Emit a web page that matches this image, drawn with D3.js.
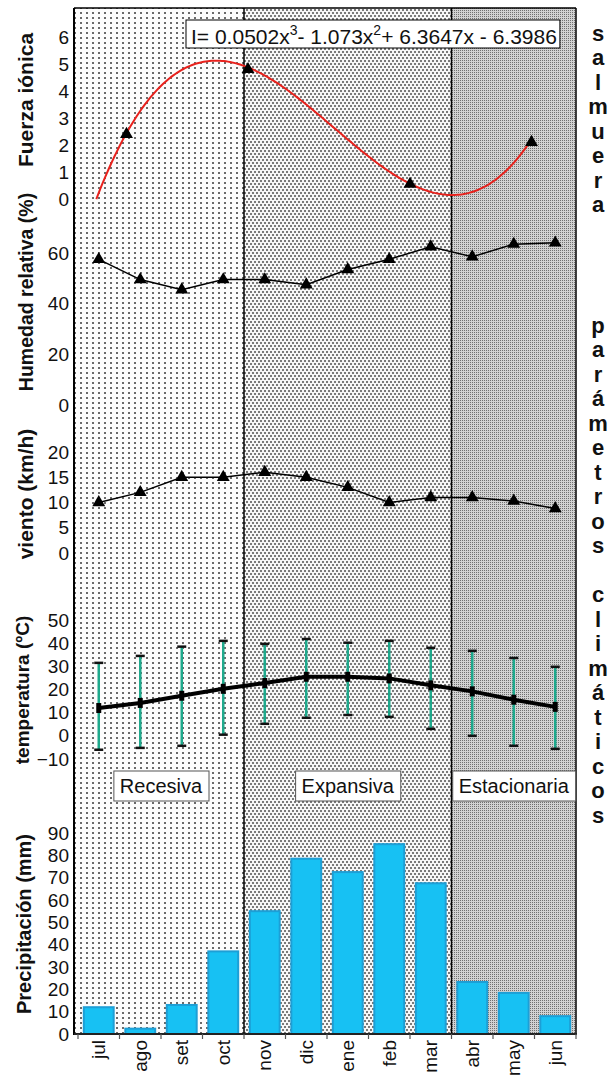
<!DOCTYPE html>
<html>
<head>
<meta charset="utf-8">
<script src="https://cdn.jsdelivr.net/npm/d3@7"></script>
<style>
  body { margin: 0; background: #fff; }
  svg { display: block; font-family: 'Liberation Sans', Arial, sans-serif; }
</style>
</head>
<body>
<script>
const months = ['jul', 'ago', 'set', 'oct', 'nov', 'dic', 'ene', 'feb', 'mar', 'abr', 'may', 'jun'];

// fuerza iónica (own x axis: month number 1..12)
const ionicMonths = [2, 5, 9, 12];
const ionicValues = [2.4, 4.8, 0.55, 2.1];
const trendCoef = [0.0502, -1.073, 6.3647, -6.3986];
const trendFrom = 1.255;

const humidity = [57.5, 49.5, 45.5, 49.5, 49.5, 47.5, 53.5, 57.5, 62.5, 58.5, 63.5, 64];
const wind = [10, 12, 15, 15, 16, 15, 13, 10, 11, 11, 10.3, 8.8];
const tempMean = [12, 14.2, 17.3, 20.3, 22.8, 25.5, 25.5, 24.8, 21.8, 19.2, 15.6, 12.5];
const tempMax = [31.5, 34.5, 38.5, 41, 39.7, 41.8, 40.2, 41, 38, 36.7, 33.6, 29.8];
const tempMin = [-6, -5.2, -4.3, 0.5, 5.2, 7.8, 9, 8.2, 3, 0, -4.3, -5.6];
const precip = [12, 2.4, 13, 37, 55, 78.5, 72.5, 85, 67.5, 23.3, 18.4, 8];

const stages = ['Recesiva', 'Expansiva', 'Estacionaria'];
const stageEdges = [0, 4, 9, 12];

const ionicTicks = [0, 1, 2, 3, 4, 5, 6];
const humTicks = [0, 20, 40, 60];
const windTicks = [0, 5, 10, 15, 20];
const tempTicks = [-10, 0, 10, 20, 30, 40, 50];
const precipTicks = [0, 10, 20, 30, 40, 50, 60, 70, 80, 90];

const sideWords = ['salmuera', 'parámetros climáticos'];

//-------------------------------------------------------

const w = 613;
const h = 1076;
const frameLeft = 74;
const frameTop = 8;
const baseY = 1034;

const svg = d3.select('body').append('svg').attr('width', w).attr('height', h);

const x = d3.scaleBand().domain(months).range([78, 576]).paddingInner(0.28).paddingOuter(0.14);
const edge = (i) => x.range()[0] + i * x.step();
const cx = (m) => x(m) + x.bandwidth() / 2;

const xIonic = d3.scaleLinear().domain([1, 12]).range([86, 531.5]);
const yIonic = d3.scaleLinear().domain([0, 6]).range([199, 37]);
const yHum = d3.scaleLinear().domain([0, 60]).range([405, 253]);
const yWind = d3.scaleLinear().domain([0, 20]).range([553, 452]);
const yTemp = d3.scaleLinear().domain([-10, 50]).range([759, 620]);
const yPrec = d3.scaleLinear().domain([0, 90]).range([baseY, 833]);

// background patterns
const defs = svg.append('defs');
const makePattern = (id, pw, ph, bg, dots, s, color) => {
  const p = defs.append('pattern').attr('id', id).attr('patternUnits', 'userSpaceOnUse')
    .attr('width', pw).attr('height', ph);
  p.append('rect').attr('width', pw).attr('height', ph).attr('fill', bg);
  dots.forEach(([dx, dy]) => {
    p.append('rect').attr('x', dx).attr('y', dy).attr('width', s).attr('height', s).attr('fill', color);
  });
};
makePattern('pat0', 6, 5, '#fcfcfc', [[2, 2]], 2, '#6a6a6a');
makePattern('pat1', 4, 6, '#f7f7f7', [[0, 0], [2, 3]], 2, '#7a7a7a');
makePattern('pat2', 2, 2, '#d2d2d2', [[0, 0]], 1, '#707070');

const regions = [[frameLeft, edge(4)], [edge(4), edge(9)], [edge(9), edge(12)]];
svg.selectAll('.region').data(regions).enter().append('rect')
  .attr('class', 'region')
  .attr('x', (d) => d[0]).attr('y', frameTop)
  .attr('width', (d) => d[1] - d[0]).attr('height', baseY - frameTop)
  .attr('fill', (d, i) => `url(#pat${i})`);

// frame and dividers
svg.append('line').attr('x1', frameLeft).attr('x2', edge(12)).attr('y1', frameTop).attr('y2', frameTop)
  .attr('stroke', '#000').attr('stroke-width', 1.5);
svg.append('line').attr('x1', edge(12)).attr('x2', edge(12)).attr('y1', frameTop).attr('y2', baseY)
  .attr('stroke', '#000').attr('stroke-width', 1.5);
svg.selectAll('.divider').data([4, 9]).enter().append('line')
  .attr('x1', (d) => edge(d)).attr('x2', (d) => edge(d))
  .attr('y1', frameTop).attr('y2', baseY)
  .attr('stroke', '#000').attr('stroke-width', 1.5);

// left tick labels
const leftAxis = (scale, ticks) => {
  const g = svg.append('g').attr('transform', `translate(${frameLeft},0)`)
    .call(d3.axisLeft(scale).tickValues(ticks).tickFormat(d3.format('d')).tickSize(0).tickPadding(5));
  g.select('.domain').remove();
  g.selectAll('text').attr('font-size', 19).attr('font-family', "'Liberation Sans', Arial, sans-serif")
    .attr('fill', '#111');
};
leftAxis(yIonic, ionicTicks);
leftAxis(yHum, humTicks);
leftAxis(yWind, windTicks);
leftAxis(yTemp, tempTicks);
leftAxis(yPrec, precipTicks);

// precipitation bars
svg.selectAll('.bar').data(precip).enter().append('rect')
  .attr('class', 'bar')
  .attr('x', (d, i) => x(months[i]))
  .attr('y', (d) => yPrec(d))
  .attr('width', x.bandwidth())
  .attr('height', (d) => yPrec(0) - yPrec(d))
  .attr('fill', '#17c1f3')
  .attr('stroke', '#1d9fd6')
  .attr('stroke-width', 2);

// left axis line and base line
svg.append('line').attr('x1', frameLeft).attr('x2', frameLeft).attr('y1', frameTop).attr('y2', baseY + 1)
  .attr('stroke', '#000').attr('stroke-width', 2);
svg.append('line').attr('x1', frameLeft).attr('x2', edge(12) + 1).attr('y1', baseY).attr('y2', baseY)
  .attr('stroke', '#222').attr('stroke-width', 2);
svg.selectAll('.xtick').data(d3.range(13)).enter().append('line')
  .attr('x1', (d) => edge(d)).attr('x2', (d) => edge(d))
  .attr('y1', baseY).attr('y2', baseY + 5)
  .attr('stroke', '#555').attr('stroke-width', 1.2);

const xAxis = svg.append('g').attr('transform', `translate(0,${baseY})`)
  .call(d3.axisBottom(x).tickSize(0).tickPadding(0));
xAxis.select('.domain').remove();
xAxis.selectAll('text')
  .attr('font-size', 19)
  .attr('font-family', "'Liberation Sans', Arial, sans-serif")
  .attr('fill', '#111')
  .attr('text-anchor', 'end')
  .attr('dy', null)
  .attr('y', 0)
  .attr('transform', 'translate(0,6) rotate(-90)')
  .attr('dominant-baseline', 'central');

// fuerza iónica trend curve
const poly = (v) => trendCoef.reduce((acc, c) => acc * v + c, 0);
const curvePts = d3.range(trendFrom, 12.0001, 0.05).map((v) => [v, poly(v)]);
svg.append('path').datum(curvePts)
  .attr('d', d3.line().x((d) => xIonic(d[0])).y((d) => yIonic(d[1])))
  .attr('fill', 'none').attr('stroke', '#e8211c').attr('stroke-width', 2);

const tri = d3.symbol().type(d3.symbolTriangle).size(72);
svg.selectAll('.ionic').data(ionicValues).enter().append('path')
  .attr('d', tri)
  .attr('transform', (d, i) => `translate(${xIonic(ionicMonths[i])},${yIonic(d)})`)
  .attr('fill', '#000');

// equation box
const eq = svg.append('text').attr('x', 191).attr('y', 44).attr('font-size', 21).attr('fill', '#111');
eq.append('tspan').text('I= 0.0502x');
eq.append('tspan').attr('font-size', 14).attr('dy', -9).text('3');
eq.append('tspan').attr('dy', 9).text('- 1.073x');
eq.append('tspan').attr('font-size', 14).attr('dy', -9).text('2');
eq.append('tspan').attr('dy', 9).text('+ 6.3647x - 6.3986');
const eb = eq.node().getBBox();
svg.insert('rect', () => eq.node())
  .attr('x', 186).attr('y', 20).attr('width', eb.x + eb.width + 3 - 186).attr('height', 28)
  .attr('fill', '#fff').attr('stroke', '#000').attr('stroke-width', 1);

// humidity & wind lines
const drawSeries = (values, yScale) => {
  svg.append('path').datum(values)
    .attr('d', d3.line().x((d, i) => cx(months[i])).y((d) => yScale(d)))
    .attr('fill', 'none').attr('stroke', '#000').attr('stroke-width', 1.5);
  svg.append('g').selectAll('path').data(values).enter().append('path')
    .attr('d', tri)
    .attr('transform', (d, i) => `translate(${cx(months[i])},${yScale(d)})`)
    .attr('fill', '#000');
};
drawSeries(humidity, yHum);
drawSeries(wind, yWind);

// temperature with ranges
const tg = svg.append('g');
months.forEach((m, i) => {
  tg.append('line').attr('x1', cx(m)).attr('x2', cx(m))
    .attr('y1', yTemp(tempMax[i])).attr('y2', yTemp(tempMin[i]))
    .attr('stroke', '#1ea98c').attr('stroke-width', 2.5);
  [tempMax[i], tempMin[i]].forEach((v) => {
    tg.append('line').attr('x1', cx(m) - 4.5).attr('x2', cx(m) + 4.5)
      .attr('y1', yTemp(v)).attr('y2', yTemp(v))
      .attr('stroke', '#111').attr('stroke-width', 2.5);
  });
});
tg.append('path').datum(tempMean)
  .attr('d', d3.line().x((d, i) => cx(months[i])).y((d) => yTemp(d)))
  .attr('fill', 'none').attr('stroke', '#000').attr('stroke-width', 4);
tg.selectAll('rect').data(tempMean).enter().append('rect')
  .attr('x', (d, i) => cx(months[i]) - 2.5).attr('y', (d) => yTemp(d) - 5)
  .attr('width', 5).attr('height', 10).attr('fill', '#000');

// stage labels
stages.forEach((s, i) => {
  const mid = (edge(stageEdges[i]) + edge(stageEdges[i + 1])) / 2;
  const t = svg.append('text').attr('x', mid).attr('y', 793).attr('text-anchor', 'middle')
    .attr('font-size', 20).attr('fill', '#111').text(s);
  const b = t.node().getBBox();
  svg.insert('rect', () => t.node())
    .attr('x', b.x - 6).attr('y', 771).attr('width', b.width + 12).attr('height', 30)
    .attr('fill', '#fff').attr('stroke', '#555').attr('stroke-width', 1);
});

// axis titles
const titles = [
  { text: 'Fuerza iónica', x: 33, y: 100, size: 21 },
  { text: 'Humedad relativa (%)', x: 33, y: 292, size: 19.5 },
  { text: 'viento (km/h)', x: 33, y: 494, size: 21 },
  { text: 'temperatura (ºC)', x: 29, y: 690, size: 19 },
  { text: 'Precipitación (mm)', x: 31, y: 924, size: 20 },
];
svg.selectAll('.ytitle').data(titles).enter().append('text')
  .attr('transform', (d) => `translate(${d.x},${d.y}) rotate(-90)`)
  .attr('text-anchor', 'middle')
  .attr('font-weight', 'bold')
  .attr('font-size', (d) => d.size)
  .attr('fill', '#111')
  .text((d) => d.text);

// stacked side words
const sideStarts = [33, 325];
sideWords.forEach((word, k) => {
  svg.append('g').selectAll('text').data(word.split('')).enter().append('text')
    .attr('x', 598)
    .attr('y', (d, i) => sideStarts[k] + i * 24.5)
    .attr('text-anchor', 'middle')
    .attr('dominant-baseline', 'central')
    .attr('font-weight', 'bold')
    .attr('font-size', 22)
    .attr('fill', '#111')
    .text((d) => d);
});
</script>
</body>
</html>
